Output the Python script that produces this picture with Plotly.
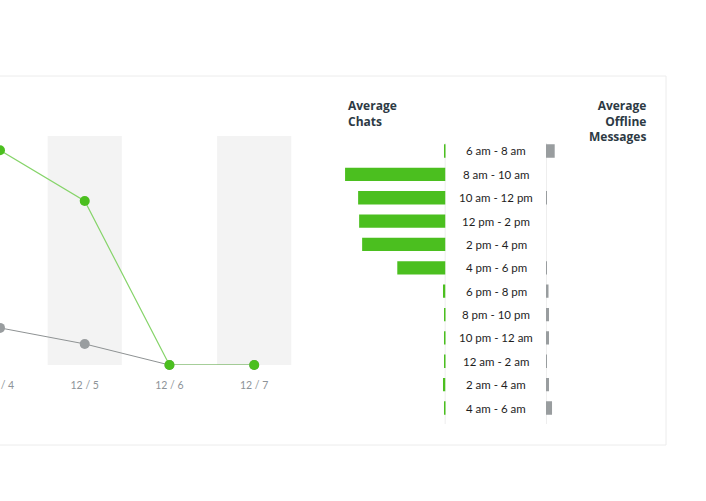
import plotly.graph_objects as go

# ---- data: daily line chart ----
dates = ["12 / 4", "12 / 5", "12 / 6", "12 / 7"]
chats_by_day = [4.69, 3.58, 0, 0]
offline_by_day = [0.81, 0.46, 0, 0]

# ---- data: hourly bars ----
hours = ["6 am - 8 am", "8 am - 10 am", "10 am - 12 pm", "12 pm - 2 pm",
         "2 pm - 4 pm", "4 pm - 6 pm", "6 pm - 8 pm", "8 pm - 10 pm",
         "10 pm - 12 am", "12 am - 2 am", "2 am - 4 am", "4 am - 6 am"]
avg_chats = [0.045, 3.0, 2.61, 2.58, 2.49, 1.44, 0.075, 0.03, 0.045, 0.03, 0.075, 0.045]
avg_offline = [0.26, 0, 0.03, 0, 0, 0.03, 0.075, 0.09, 0.09, 0.03, 0.09, 0.18]

GREEN = "#4bbf1f"
GREEN_LINE = "#86d46a"
GRAY = "#999d9f"
W, H = 706, 501

def py(px):
    return (H - px) / H

def pxx(px):
    return px / W

xs = list(range(len(dates)))
hy = list(range(len(hours)))

fig = go.Figure()

fig.add_trace(go.Scatter(
    x=xs, y=offline_by_day, mode="lines+markers",
    line=dict(color="#8e9293", width=1),
    marker=dict(color=GRAY, size=10),
    cliponaxis=False, xaxis="x", yaxis="y", showlegend=False,
))
fig.add_trace(go.Scatter(
    x=xs, y=chats_by_day, mode="lines+markers",
    line=dict(color=GREEN_LINE, width=1.2),
    marker=dict(color=GREEN, size=10),
    cliponaxis=False, xaxis="x", yaxis="y", showlegend=False,
))

fig.add_trace(go.Bar(
    x=avg_chats, y=hy, orientation="h", marker=dict(color=GREEN, line=dict(width=0)),
    width=0.57, xaxis="x2", yaxis="y2", showlegend=False,
))
fig.add_trace(go.Bar(
    x=avg_offline, y=hy, orientation="h", marker=dict(color=GRAY, line=dict(width=0)),
    width=0.57, xaxis="x3", yaxis="y2", showlegend=False,
))

shapes = []
# panel border
shapes.append(dict(type="rect", xref="paper", yref="paper",
                   x0=-0.02, x1=pxx(666), y0=py(445), y1=py(76),
                   line=dict(color="#ececec", width=1), fillcolor="rgba(0,0,0,0)",
                   layer="below"))
# alternating shaded day bands
for i in xs:
    if i % 2 == 1:
        shapes.append(dict(type="rect", xref="x", yref="y",
                           x0=i - 0.4375, x1=i + 0.4375, y0=0, y1=5,
                           fillcolor="#f3f3f3", line=dict(width=0), layer="below"))
# label column borders
for xr in ["x2", "x3"]:
    shapes.append(dict(type="line", xref=xr, yref="paper", x0=0, x1=0,
                       y0=py(424), y1=py(143),
                       line=dict(color="#e8e8e8", width=1.5), layer="below"))

annotations = []
for i, h in enumerate(hours):
    annotations.append(dict(text=h, xref="paper", yref="y2", x=pxx(496), y=i,
                            showarrow=False, xanchor="center", yanchor="middle",
                            font=dict(family="Lato", size=11.5, color="#1e1e1e")))
annotations.append(dict(text="<b>Average<br>Chats</b>", xref="paper", yref="paper",
                        x=pxx(346), y=py(95), xanchor="left", yanchor="top", align="left",
                        showarrow=False,
                        font=dict(family="Open Sans", size=12, color="#2d3a44")))
annotations.append(dict(text="<b>Average<br>Offline<br>Messages</b>", xref="paper", yref="paper",
                        x=pxx(648), y=py(95), xanchor="right", yanchor="top", align="right",
                        showarrow=False,
                        font=dict(family="Open Sans", size=12, color="#2d3a44")))

fig.update_layout(
    width=W, height=H,
    margin=dict(l=0, r=0, t=0, b=0),
    paper_bgcolor="white", plot_bgcolor="rgba(0,0,0,0)",
    font=dict(family="Lato"),
    barmode="overlay",
    shapes=shapes,
    annotations=annotations,
    xaxis=dict(domain=[0, pxx(294)], range=[0, 3.47], tickvals=xs, ticktext=dates,
               showgrid=False, zeroline=False, showline=False, ticks="",
               tickfont=dict(family="Lato", size=10.5, color="#8d9398"),
               ticklabelstandoff=12, ticklabeloverflow="allow",
               automargin=False, anchor="y"),
    yaxis=dict(domain=[py(365), py(136)], range=[0, 5], visible=False, anchor="x"),
    xaxis2=dict(domain=[pxx(330), pxx(445.5)], range=[3.45, 0], visible=False, anchor="y2"),
    xaxis3=dict(domain=[pxx(546), pxx(661.5)], range=[0, 3.45], visible=False, anchor="y2"),
    yaxis2=dict(domain=[py(419.7), py(139.3)], range=[11.5, -0.5], visible=False, anchor="x2"),
)

fig.write_html("out.html", config={"displayModeBar": False},
               post_script="document.body.style.margin='0';")
